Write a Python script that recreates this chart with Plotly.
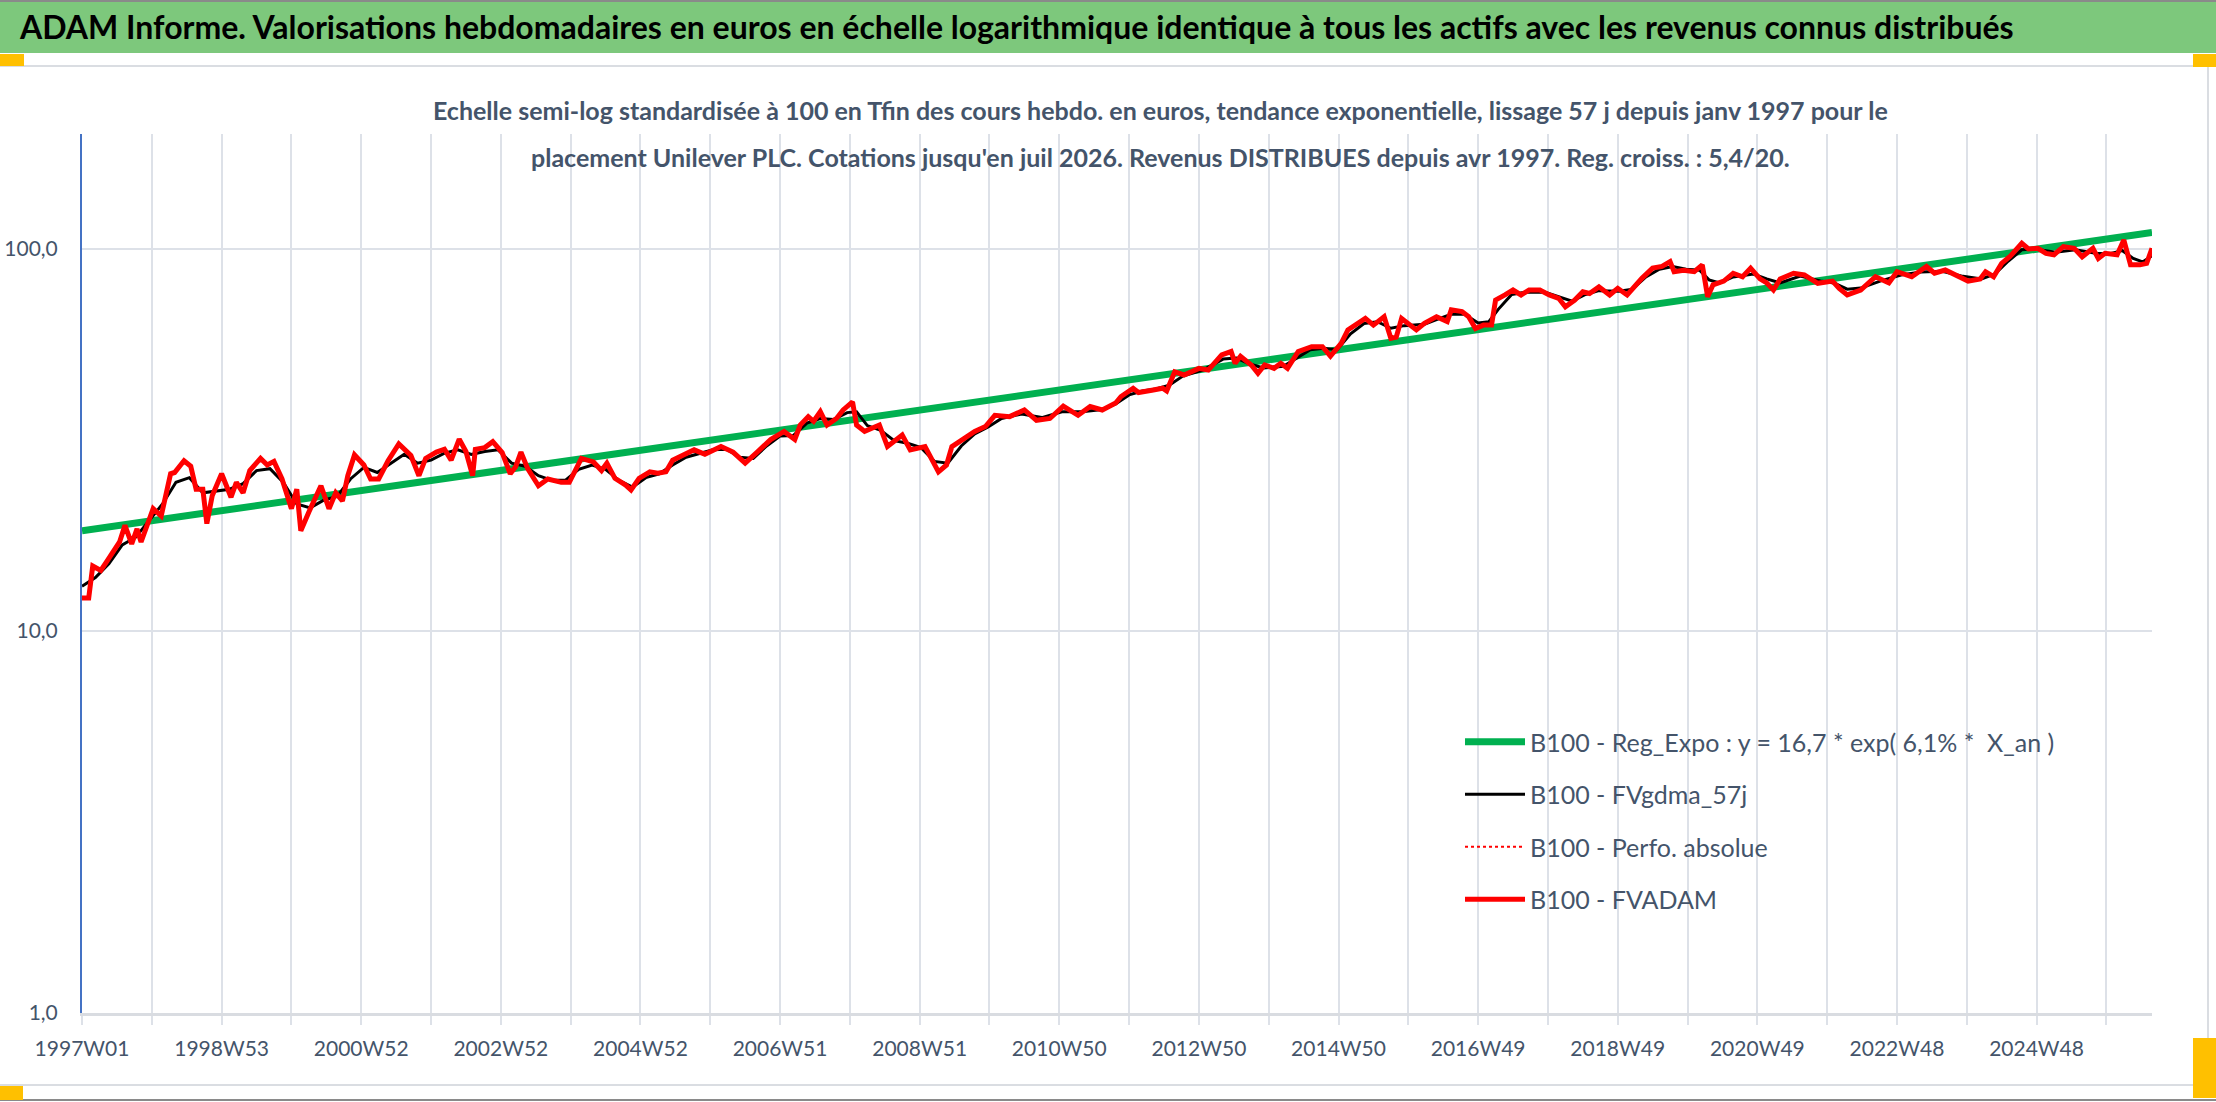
import math
import plotly.graph_objects as go

# x axis = week index counted from 1997W01
tick_weeks = [0, 104, 208, 312, 416, 520, 624, 728, 832, 936, 1040, 1144, 1248, 1352, 1456]
tick_labels = ["1997W01", "1998W53", "2000W52", "2002W52", "2004W52", "2006W51", "2008W51",
               "2010W50", "2012W50", "2014W50", "2016W49", "2018W49", "2020W49", "2022W48", "2024W48"]

# B100 - FVADAM
red_weeks = [0, 5, 8, 14, 19, 23, 28, 32, 37, 41, 44, 53, 59, 66, 69, 76, 81, 85, 90, 93, 97,
             104, 111, 115, 120, 125, 133, 138, 143, 149, 153, 156, 160, 163, 169, 178, 184, 189,
             194, 198, 203, 210, 215, 221, 228, 236, 245, 251, 256, 264, 270, 275, 281, 286, 291,
             293, 300, 306, 313, 319, 323, 327, 332, 340, 347, 357, 363, 372, 381, 387, 391, 397,
             405, 409, 415, 423, 429, 435, 440, 449, 456, 464, 476, 485, 494, 503, 513, 523, 531,
             535, 541, 545, 550, 555, 562, 567, 574, 577, 583, 594, 600, 611, 617, 628, 638, 644,
             648, 657, 665, 673, 680, 691, 702, 711, 721, 731, 742, 751, 760, 770, 774, 783, 787,
             797, 805, 808, 814, 821, 832, 839, 849, 856, 859, 863, 871, 876, 881, 888, 893, 898,
             906, 916, 924, 930, 938, 943, 948, 956, 962, 970, 975, 979, 983, 994, 1000, 1009,
             1017, 1020, 1028, 1033, 1038, 1044, 1050, 1053, 1060, 1066, 1072, 1078, 1086, 1093,
             1100, 1105, 1112, 1118, 1123, 1130, 1138, 1144, 1151, 1156, 1162, 1170, 1177, 1183,
             1186, 1193, 1201, 1207, 1211, 1215, 1223, 1230, 1237, 1243, 1250, 1255, 1260, 1265,
             1275, 1283, 1293, 1304, 1309, 1315, 1325, 1336, 1346, 1352, 1363, 1374, 1380, 1388,
             1396, 1405, 1414, 1418, 1424, 1430, 1436, 1441, 1445, 1450, 1457, 1463, 1469, 1476,
             1484, 1490, 1498, 1502, 1507, 1516, 1521, 1526, 1533, 1538, 1542]
red_values = [12.2, 12.2, 14.8, 14.4, 15.3, 16.1, 17.1, 18.9, 16.9, 18.5, 17.1, 20.9, 20.0, 25.8,
              26.0, 27.9, 27.0, 23.5, 23.5, 19.1, 22.6, 25.8, 22.4, 24.5, 23.0, 26.3, 28.3, 27.2,
              27.8, 25.0, 22.6, 20.9, 23.5, 18.3, 20.5, 24.0, 20.9, 23.0, 21.9, 25.5, 28.9, 27.2,
              25.0, 25.0, 27.9, 30.9, 28.8, 25.5, 28.3, 29.4, 29.9, 28.0, 31.8, 29.5, 25.5, 29.9,
              30.2, 31.3, 29.3, 25.8, 26.9, 29.4, 26.6, 24.0, 25.0, 24.5, 24.5, 28.3, 27.7, 26.3,
              27.5, 25.1, 24.1, 23.4, 25.1, 26.1, 25.9, 26.1, 28.0, 28.9, 29.8, 29.0, 30.4, 29.4,
              27.5, 29.4, 31.7, 33.3, 31.7, 34.6, 36.4, 35.4, 37.5, 34.6, 36.0, 37.9, 39.8, 34.6,
              33.3, 34.6, 30.4, 32.6, 29.8, 30.4, 26.1, 27.2, 30.4, 31.9, 33.3, 34.3, 36.7, 36.4,
              37.9, 35.6, 36.0, 38.8, 36.7, 38.7, 37.9, 39.5, 41.1, 43.2, 42.1, 42.7, 43.2, 42.5,
              47.7, 46.8, 48.7, 48.2, 52.8, 53.9, 50.2, 52.4, 49.7, 47.3, 49.7, 48.7, 50.2, 48.7,
              53.9, 55.5, 55.5, 52.4, 56.6, 61.4, 63.2, 65.8, 63.2, 66.5, 58.4, 58.8, 65.8, 61.4,
              63.9, 66.5, 64.6, 69.3, 68.6, 66.5, 61.9, 63.2, 63.2, 73.5, 75.8, 78.1, 75.8, 78.1,
              78.1, 75.8, 74.3, 70.6, 73.5, 77.3, 76.5, 79.6, 75.8, 78.9, 75.8, 79.6, 83.8, 89.1,
              90.0, 92.7, 87.2, 88.0, 87.2, 90.9, 75.0, 80.6, 82.4, 86.4, 84.6, 89.1, 83.5, 81.5,
              78.1, 83.5, 86.4, 85.5, 81.3, 82.4, 78.9, 75.8, 78.1, 84.6, 81.5, 87.2, 84.6, 90.0,
              86.4, 88.1, 85.5, 82.4, 83.5, 87.2, 84.6, 91.7, 95.4, 100.4, 103.5, 100.0, 100.4,
              97.4, 96.6, 101.4, 100.4, 95.4, 100.4, 94.4, 97.4, 96.6, 105.6, 90.9, 90.9, 91.7,
              100.4]

# B100 - FVgdma_57j (smoothed line)
black_weeks = [0, 10, 20, 30, 40, 50, 60, 70, 80, 90, 100, 110, 120, 130, 140, 150, 160, 170,
               180, 190, 200, 210, 220, 230, 240, 250, 260, 270, 280, 290, 300, 310, 320, 330,
               340, 350, 360, 370, 380, 390, 400, 410, 420, 430, 440, 450, 460, 470, 480, 490,
               500, 510, 520, 530, 540, 550, 560, 570, 577, 585, 595, 605, 615, 625, 635, 645,
               655, 665, 675, 685, 700, 715, 730, 745, 760, 770, 780, 790, 800, 810, 820, 835,
               850, 860, 870, 880, 895, 905, 915, 925, 935, 945, 955, 965, 975, 985, 1000, 1010,
               1020, 1030, 1040, 1048, 1055, 1065, 1075, 1090, 1100, 1110, 1120, 1130, 1145,
               1155, 1165, 1175, 1185, 1195, 1205, 1212, 1220, 1230, 1245, 1255, 1265, 1280,
               1295, 1305, 1315, 1325, 1340, 1355, 1370, 1385, 1400, 1415, 1425, 1435, 1445,
               1455, 1470, 1485, 1500, 1510, 1520, 1528, 1535, 1542]
black_values = [13.1, 13.8, 15.0, 16.8, 17.6, 19.5, 21.5, 24.5, 25.2, 23.0, 23.2, 23.5, 24.3,
                26.3, 26.6, 24.5, 21.5, 21.0, 22.0, 22.5, 25.0, 26.8, 26.0, 27.5, 29.0, 27.5,
                28.0, 29.2, 29.8, 29.0, 29.5, 29.8, 27.5, 27.0, 25.5, 24.8, 24.8, 26.5, 27.2,
                26.5, 24.8, 23.8, 25.2, 25.8, 27.2, 28.5, 29.2, 29.8, 29.9, 28.5, 28.3, 30.5,
                32.4, 32.5, 35.0, 36.0, 35.8, 37.3, 37.5, 34.5, 33.5, 31.5, 31.0, 30.2, 27.8,
                27.5, 30.5, 32.8, 34.2, 36.0, 37.0, 36.2, 37.5, 37.5, 38.0, 39.3, 41.5, 42.5,
                43.0, 44.0, 46.5, 48.2, 51.5, 51.8, 50.0, 48.8, 49.3, 51.8, 54.5, 55.0, 54.5,
                60.0, 63.8, 64.5, 62.0, 63.0, 63.5, 65.5, 67.5, 67.5, 64.0, 64.5, 69.5, 76.0,
                77.0, 77.0, 75.0, 73.0, 76.0, 77.8, 77.5, 78.5, 84.5, 88.5, 90.0, 88.5, 88.0,
                83.0, 81.5, 84.5, 86.0, 83.5, 81.5, 85.0, 82.5, 81.5, 78.5, 79.0, 82.5, 85.5,
                87.0, 87.5, 85.0, 83.5, 86.0, 93.0, 99.5, 100.0, 98.0, 99.5, 97.5, 97.0, 99.0,
                94.5, 92.5, 96.0]

# B100 - Reg_Expo : straight line on the log scale, two ends
reg_weeks = [0, 1542]
reg_values = [18.3, 110.4]

W, H = 2216, 1102
L, R, T, B = 82, 2152, 134, 1013
FONT = "Lato, 'Liberation Sans', Arial, sans-serif"
SLATE = "#44546A"


def px(x):
    return (x - L) / (R - L)


def py(y):
    return (B - y) / (B - T)


fig = go.Figure()
fig.add_trace(go.Scatter(x=reg_weeks, y=reg_values, mode="lines", legendgroup="a",
                         name="B100 - Reg_Expo : y = 16,7 * exp( 6,1% *  X_an )",
                         line=dict(color="#00B050", width=7)))
fig.add_trace(go.Scatter(x=black_weeks, y=black_values, mode="lines", legendgroup="b",
                         name="B100 - FVgdma_57j", line=dict(color="black", width=3)))
fig.add_trace(go.Scatter(x=red_weeks, y=red_values, mode="lines", legendgroup="c",
                         name="B100 - Perfo. absolue",
                         line=dict(color="#FF0000", width=2, dash="dot")))
fig.add_trace(go.Scatter(x=red_weeks, y=red_values, mode="lines", legendgroup="d",
                         name="B100 - FVADAM", line=dict(color="#FF0000", width=5)))

shapes = [
    # green title band
    dict(type="rect", x0=px(0), x1=px(W), y0=py(0), y1=py(53), fillcolor="#7DC87C", line_width=0),
    dict(type="line", x0=px(0), x1=px(W), y0=py(1), y1=py(1), line=dict(color="#8A8A8A", width=2)),
    # chart frame
    dict(type="line", x0=px(0), x1=px(2208), y0=py(66), y1=py(66), line=dict(color="#DADDE2", width=2)),
    dict(type="line", x0=px(0), x1=px(2208), y0=py(1085), y1=py(1085), line=dict(color="#DADDE2", width=2)),
    dict(type="line", x0=px(2208), x1=px(2208), y0=py(66), y1=py(1085), line=dict(color="#DADDE2", width=2)),
    dict(type="line", x0=px(0), x1=px(W), y0=py(1100), y1=py(1100), line=dict(color="#8A8A8A", width=2)),
    # selection handles
    dict(type="rect", x0=px(0), x1=px(24), y0=py(54), y1=py(66), fillcolor="#FFC000", line_width=0),
    dict(type="rect", x0=px(2193), x1=px(W), y0=py(54), y1=py(67), fillcolor="#FFC000", line_width=0),
    dict(type="rect", x0=px(0), x1=px(23), y0=py(1086), y1=py(1100), fillcolor="#FFC000", line_width=0),
    dict(type="rect", x0=px(2193), x1=px(W), y0=py(1038), y1=py(1098), fillcolor="#FFC000", line_width=0),
]
for s in shapes:
    s.update(xref="paper", yref="paper", layer="below")

annotations = [
    dict(text="<b>ADAM Informe. Valorisations hebdomadaires en euros en échelle logarithmique identique "
              "à tous les actifs avec les revenus connus distribués</b>",
         x=px(17), y=py(27), xanchor="left", yanchor="middle",
         font=dict(family=FONT, size=32, color="black")),
    dict(text="<b>Echelle semi-log standardisée à 100 en Tfin des cours hebdo. en euros, tendance "
              "exponentielle, lissage 57 j depuis janv 1997 pour le</b>",
         x=px(1160), y=py(110), xanchor="center", yanchor="middle",
         font=dict(family=FONT, size=25, color=SLATE)),
    dict(text="<b>placement Unilever PLC. Cotations jusqu'en juil 2026. Revenus DISTRIBUES depuis "
              "avr 1997. Reg. croiss. : 5,4/20.</b>",
         x=px(1160), y=py(157), xanchor="center", yanchor="middle",
         font=dict(family=FONT, size=25, color=SLATE)),
]
for a in annotations:
    a.update(xref="paper", yref="paper", showarrow=False)

fig.update_layout(
    width=W, height=H,
    margin=dict(l=L, r=W - R, t=T, b=H - B, pad=0, autoexpand=False),
    paper_bgcolor="white", plot_bgcolor="white",
    font=dict(family=FONT, size=21, color=SLATE),
    shapes=shapes, annotations=annotations,
    showlegend=True,
    legend=dict(x=px(1460), y=py(719), xanchor="left", yanchor="top",
                font=dict(family=FONT, size=25, color=SLATE),
                traceorder="grouped", tracegroupgap=17, bgcolor="rgba(0,0,0,0)",
                itemwidth=60),
)
fig.update_xaxes(
    range=[0, 1542], tickmode="array", tickvals=tick_weeks, ticktext=tick_labels,
    showgrid=True, gridcolor="#DDE1E8", gridwidth=2,
    ticks="outside", ticklen=9, tickcolor="#DDE1E8", tickwidth=2,
    minor=dict(tick0=0, dtick=52, showgrid=True, gridcolor="#DDE1E8", gridwidth=2,
               ticks="outside", ticklen=9, tickcolor="#DDE1E8", tickwidth=2),
    showline=True, linecolor="#D9DCE1", linewidth=3,
    zeroline=False, ticklabelstandoff=6, automargin=False,
    tickfont=dict(family=FONT, size=21, color=SLATE),
)
fig.update_yaxes(
    type="log", range=[0, math.log10(200)],
    tickmode="array", tickvals=[1, 10, 100], ticktext=["1,0", "10,0", "100,0"],
    showgrid=True, gridcolor="#DDE1E8", gridwidth=2,
    showline=True, linecolor="#4472C4", linewidth=2,
    ticks="", ticklabelstandoff=18, zeroline=False, automargin=False,
    tickfont=dict(family=FONT, size=21, color=SLATE),
)

fig.write_html("out.html", config={"displayModeBar": False},
               post_script="document.documentElement.style.margin='0';"
                           "document.body.style.margin='0';document.body.style.padding='0';"
                           "document.body.style.overflow='hidden';")
